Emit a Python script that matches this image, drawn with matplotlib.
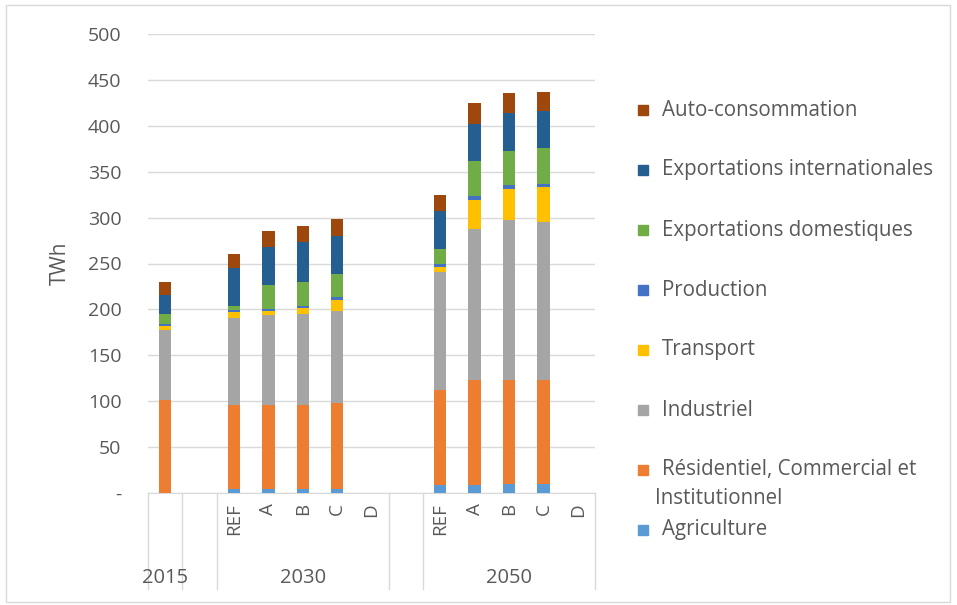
import numpy as np
import matplotlib.pyplot as plt
from matplotlib.patches import Rectangle

plt.rcParams['font.family'] = ['Open Sans', 'DejaVu Sans']

# slots: 2015, blank, 2030 REF..D, blank, 2050 REF..D
sub_labels = ["", "", "REF", "A", "B", "C", "D", "", "REF", "A", "B", "C", "D"]
groups = ["2015", "2030", "2050"]

agriculture = [0, 0, 4, 4, 4, 4, 0, 0, 9, 9, 10, 10, 0]
residentiel = [101, 0, 92, 92, 92, 94, 0, 0, 103, 114, 113, 113, 0]
industriel = [77, 0, 95, 98, 99, 100, 0, 0, 129, 165, 174, 172, 0]
transport = [4, 0, 6, 4, 7, 12, 0, 0, 5, 31, 34, 38, 0]
production = [2, 0, 2, 2, 2, 3, 0, 0, 3, 5, 5, 4, 0]
export_dom = [11, 0, 5, 27, 26, 26, 0, 0, 17, 38, 37, 39, 0]
export_int = [21, 0, 41, 41, 43, 41, 0, 0, 41, 40, 41, 40, 0]
auto_conso = [14, 0, 15, 17, 18, 18, 0, 0, 18, 23, 22, 21, 0]

series = [
    ("Agriculture", agriculture, "#5B9BD5"),
    ("Résidentiel, Commercial et\nInstitutionnel", residentiel, "#ED7D31"),
    ("Industriel", industriel, "#A5A5A5"),
    ("Transport", transport, "#FFC000"),
    ("Production", production, "#4472C4"),
    ("Exportations domestiques", export_dom, "#70AD47"),
    ("Exportations internationales", export_int, "#255E91"),
    ("Auto-consommation", auto_conso, "#9E480E"),
]

fig = plt.figure(figsize=(9.57, 6.05), dpi=100)
ax = fig.add_axes([148 / 957, 112 / 605, (595 - 148) / 957, (493 - 34) / 605])

x = np.arange(len(sub_labels))
bottom = np.zeros(len(x))
for name, vals, col in series:
    ax.bar(x, vals, 0.36, bottom=bottom, color=col, zorder=3)
    bottom += np.array(vals)

ax.set_xlim(-0.5, len(x) - 0.5)
ax.set_ylim(0, 500)
ax.set_yticks(range(0, 501, 50))
ax.set_yticklabels(["-"] + [str(v) for v in range(50, 501, 50)])
ax.tick_params(axis='y', length=0, labelsize=14, labelcolor="#595959", pad=19)
ax.grid(axis='y', color="#D9D9D9", linewidth=1, zorder=0)
ax.set_xticks([])
for s in ["top", "right", "left"]:
    ax.spines[s].set_visible(False)
ax.spines["bottom"].set_color("#D9D9D9")
ax.set_ylabel("TWh", fontsize=15, color="#595959", labelpad=12)

# multi-level category axis
for b in [-0.5, 0.5, 1.5, 6.5, 7.5, 12.5]:
    ax.plot([b, b], [0, -105], color="#D9D9D9", lw=1, clip_on=False, transform=ax.transData)
for i, lab in enumerate(sub_labels):
    if lab:
        ax.text(i, -11, lab, rotation=90, ha="center", va="top", fontsize=13.5, color="#595959")
for lab, pos in zip(groups, [0, 4, 10]):
    ax.text(pos, -93, lab, ha="center", va="center", fontsize=14.5, color="#595959")

# legend on the right
leg_y = [530, 470, 410, 350, 290, 230, 170, 110]
for (name, vals, col), py in zip(series, leg_y):
    fig.patches.append(Rectangle((638 / 957, 1 - (py + 5) / 605), 10 / 957, 10 / 605,
                                 transform=fig.transFigure, color=col))
    if "\n" in name:
        first, second = name.split("\n")
        fig.text(662 / 957, 1 - py / 605, first, va="center", fontsize=14.8, color="#595959")
        fig.text(655 / 957, 1 - (py + 28) / 605, second, va="center", fontsize=14.8, color="#595959")
    else:
        fig.text(662 / 957, 1 - py / 605, name, va="center", fontsize=14.8, color="#595959")

# outer frame
fig.patches.append(Rectangle((6 / 957, 3 / 605), 944 / 957, 597 / 605, transform=fig.transFigure,
                             fill=False, edgecolor="#D9D9D9", lw=1))

fig.savefig("out.png", dpi=100)
